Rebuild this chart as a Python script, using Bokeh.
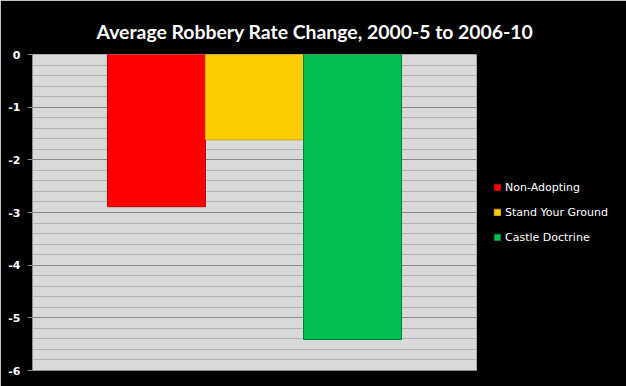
from bokeh.plotting import figure
from bokeh.models import (Range1d, FactorRange, FixedTicker, Legend, LegendItem, Title,
                          ColumnDataSource)
from bokeh.embed import file_html
from bokeh.resources import INLINE

# ---- data ----
series = ["Non-Adopting", "Stand Your Ground", "Castle Doctrine"]
values = [-2.89, -1.62, -5.41]
colors = ["#ff0000", "#ffcc00", "#00c050"]
edges = ["#c00000", "#d9a400", "#00803a"]
y_ticks = [0, -1, -2, -3, -4, -5, -6]
y_tick_labels = ["0", "-1", "-2", "-3", "-4", "-5", "-6"]
y_minor = [round(-i * 0.2, 1) for i in range(31) if i % 5 != 0]
title_text = "Average Robbery Rate Change, 2000-5 to 2006-10"

p = figure(frame_width=444, frame_height=316, output_backend="svg", toolbar_location=None,
           x_range=FactorRange(*series, range_padding=0.765, range_padding_units="absolute"),
           y_range=Range1d(-6, 0),
           min_border_left=32, min_border_right=150, min_border_top=54, min_border_bottom=16)

p.background_fill_color = "#d9d9d9"
p.border_fill_color = "black"
p.outline_line_color = None

src = ColumnDataSource(dict(x=series, top=[0] * 3, bottom=values, color=colors, edge=edges))
r = p.vbar(x="x", top="top", bottom="bottom", width=1.0, source=src,
           fill_color="color", line_color="edge", line_width=1)

# axes
p.yaxis.ticker = FixedTicker(ticks=y_ticks, minor_ticks=y_minor)
p.yaxis.major_label_overrides = dict(zip(y_ticks, y_tick_labels))
p.yaxis.axis_line_color = "#8c8c8c"
p.yaxis.major_tick_line_color = "#8c8c8c"
p.yaxis.major_tick_out = 5
p.yaxis.major_tick_in = 0
p.yaxis.minor_tick_line_color = None
p.yaxis.major_label_text_color = "white"
p.yaxis.major_label_text_font = "DejaVu Sans"
p.yaxis.major_label_text_font_size = "11px"
p.yaxis.major_label_text_font_style = "bold"
p.yaxis.major_label_standoff = 7

p.xaxis.axis_line_color = "#8c8c8c"
p.xaxis.major_tick_line_color = None
p.xaxis.minor_tick_line_color = None
p.xaxis.major_label_text_font_size = "0px"
p.xaxis.major_label_text_color = None
p.xaxis.major_label_standoff = 0

p.xgrid.grid_line_color = None
p.ygrid.grid_line_color = "#8a8a8a"
p.ygrid.grid_line_width = 1
p.ygrid.minor_grid_line_color = "#b4b4b4"
p.ygrid.minor_grid_line_width = 1

# title
t = Title(text=title_text, align="left", offset=64, text_color="white",
          text_font="Lato", text_font_size="19.4px", text_font_style="bold",
          standoff=24)
p.add_layout(t, "above")

# legend
items = [LegendItem(label=s, renderers=[r], index=i) for i, s in enumerate(series)]
legend = Legend(items=items, location="center_left", orientation="vertical",
                background_fill_alpha=0, border_line_color=None,
                label_text_color="white", label_text_font="DejaVu Sans",
                label_text_font_size="11px", glyph_width=8, glyph_height=8,
                label_standoff=4, label_height=16, spacing=9, padding=0, margin=17)
p.add_layout(legend, "right")

html = file_html(p, INLINE)
html = html.replace("<body>", '<body style="background:black">', 1)
open("out.html", "w").write(html)
